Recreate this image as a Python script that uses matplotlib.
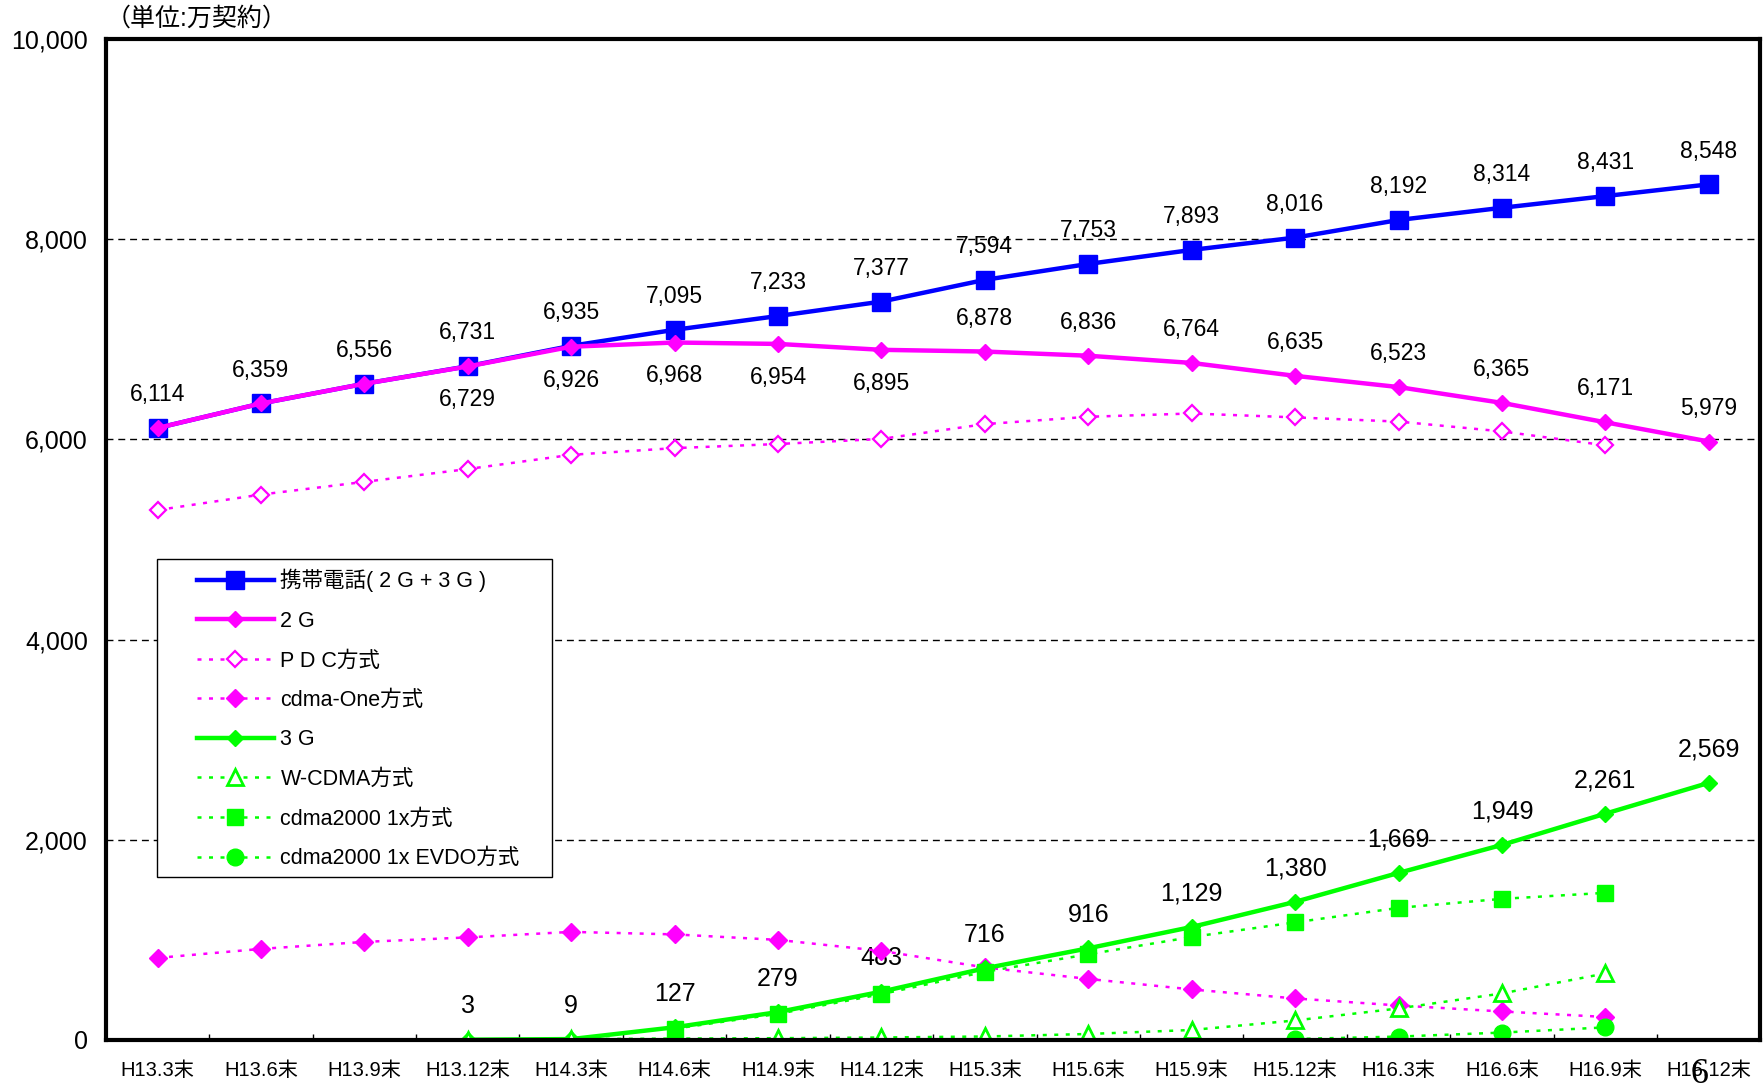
import matplotlib.pyplot as plt
import matplotlib.patches as mpatches
import numpy as np

plt.rcParams['font.family'] = ['Liberation Sans', 'Noto Sans CJK JP']

nan = np.nan

periods = ['H13.3末', 'H13.6末', 'H13.9末', 'H13.12末', 'H14.3末', 'H14.6末',
           'H14.9末', 'H14.12末', 'H15.3末', 'H15.6末', 'H15.9末', 'H15.12末',
           'H16.3末', 'H16.6末', 'H16.9末', 'H16.12末']

total = [6114, 6359, 6556, 6731, 6935, 7095, 7233, 7377,
         7594, 7753, 7893, 8016, 8192, 8314, 8431, 8548]
g2 = [6114, 6359, 6556, 6729, 6926, 6968, 6954, 6895,
      6878, 6836, 6764, 6635, 6523, 6365, 6171, 5979]
pdc = [5294, 5449, 5576, 5704, 5846, 5913, 5954, 6005,
       6153, 6226, 6259, 6220, 6178, 6080, 5941, nan]
cdmaone = [820, 910, 980, 1025, 1080, 1055, 1000, 890,
           725, 610, 505, 415, 345, 285, 230, nan]
g3 = [nan, nan, nan, 3, 9, 127, 279, 483,
      716, 916, 1129, 1380, 1669, 1949, 2261, 2569]
wcdma = [nan, nan, nan, 3, 9, 14, 18, 25,
         35, 60, 100, 195, 315, 465, 665, nan]
cdma1x = [nan, nan, nan, nan, nan, 113, 261, 458,
          681, 856, 1029, 1175, 1320, 1410, 1470, nan]
evdo = [nan, nan, nan, nan, nan, nan, nan, nan,
        nan, nan, nan, 10, 34, 74, 126, nan]

BLUE = '#0000FF'
MAG = '#FF00FF'
GREEN = '#00FF00'
dots = (0, (1.6, 3))

x = np.arange(len(periods))

fig = plt.figure(figsize=(17.64, 10.84), dpi=100)
ax = fig.add_axes([0.060, 0.0406, 0.938, 0.9234])

ax.plot(x, total, color=BLUE, lw=3.2, marker='s', ms=13, zorder=4,
        label='携帯電話( 2 G + 3 G )')
ax.plot(x, g2, color=MAG, lw=3.2, marker='D', ms=8.5, zorder=4.1, label='2 G')
ax.plot(x, pdc, color=MAG, lw=1.8, ls=dots, marker='D', ms=8, mfc='white',
        mec=MAG, mew=1.6, zorder=4.2, label='P D C方式')
ax.plot(x, cdmaone, color=MAG, lw=1.8, ls=dots, marker='D', ms=9, zorder=4.3,
        label='cdma-One方式')
ax.plot(x, g3, color=GREEN, lw=3.2, marker='D', ms=8.5, zorder=4.4, label='3 G')
ax.plot(x, wcdma, color=GREEN, lw=1.8, ls=dots, marker='^', ms=12, mfc='white',
        mec=GREEN, mew=2, zorder=4.5, label='W-CDMA方式')
ax.plot(x, cdma1x, color=GREEN, lw=1.8, ls=dots, marker='s', ms=12, zorder=4.6,
        label='cdma2000 1x方式')
ax.plot(x, evdo, color=GREEN, lw=1.8, ls=dots, marker='o', ms=12, zorder=4.7,
        label='cdma2000 1x EVDO方式')

# value labels
for i, v in enumerate(total):
    ax.annotate(f'{v:,}', (i, v), xytext=(0, 24), textcoords='offset points',
                ha='center', va='center', fontsize=16.5, zorder=2)
for i, v in enumerate(g2):
    if i < 3:
        continue
    dy = -24 if i < 8 else 24
    ax.annotate(f'{v:,}', (i, v), xytext=(0, dy), textcoords='offset points',
                ha='center', va='center', fontsize=16.5, zorder=2)
for i, v in enumerate(g3):
    if np.isnan(v):
        continue
    ax.annotate(f'{v:,}', (i, v), xytext=(0, 24), textcoords='offset points',
                ha='center', va='center', fontsize=18, zorder=2)

# dashed gridlines drawn over the labels
for gy in [2000, 4000, 6000, 8000]:
    ax.axhline(gy, color='black', lw=1, ls=(0, (5, 3.5)), zorder=3)

ax.set_xlim(-0.5, 15.5)
ax.set_ylim(0, 10000)
ax.set_yticks(np.arange(0, 10001, 2000))
ax.set_yticklabels([f'{t:,}' for t in range(0, 10001, 2000)])
ax.set_xticks(x)
ax.set_xticklabels(periods)
ax.set_xticks(np.arange(0.5, 15, 1), minor=True)
ax.tick_params(axis='y', length=0, pad=13, labelsize=18)
ax.tick_params(axis='x', which='major', length=0, pad=15, labelsize=14.5)
ax.tick_params(axis='x', which='minor', direction='in', length=4.5, width=1)
for s in ax.spines.values():
    s.set_linewidth(3)
    s.set_zorder(6)

# legend box
box = mpatches.Rectangle((0.0311, 0.1628), 0.2384, 0.3177, transform=ax.transAxes,
                         facecolor='white', edgecolor='black', lw=1, zorder=6.5)
ax.add_patch(box)
leg = ax.legend(loc='upper left', bbox_to_anchor=(0.0548, 0.4705),
                borderaxespad=0, borderpad=0, fontsize=15.5, handlelength=3.6,
                labelspacing=0.86, frameon=False, handletextpad=0.3)
leg.set_zorder(7)

fig.text(0.060, 0.9825, '（単位:万契約）', fontsize=18, va='center', ha='left')
fig.text(0.9637, 0.009, '6', fontsize=26, family='Liberation Serif',
         ha='center', va='center')

fig.savefig('out.png', dpi=100)
